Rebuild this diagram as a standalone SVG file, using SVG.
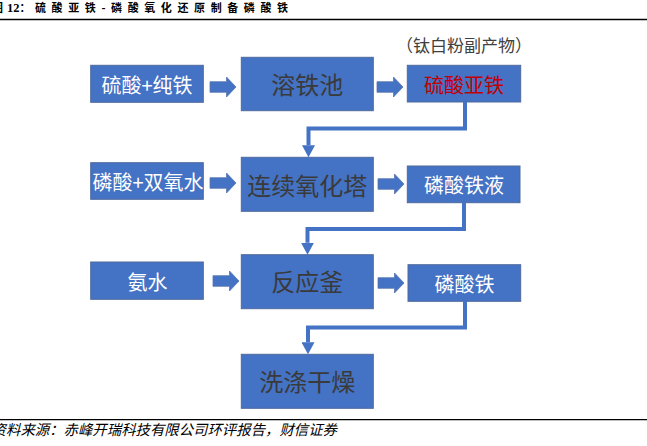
<svg xmlns="http://www.w3.org/2000/svg" width="647" height="446" viewBox="0 0 647 446">
<style>
.box{fill:#4472C4;stroke:#4f6a9c;stroke-width:1}
.arr{fill:#4472C4;stroke:#5a77ad;stroke-width:0.8}
.st{font-family:"Noto Sans CJK SC","Noto Sans",sans-serif;font-size:20px;fill:#ffffff;text-anchor:middle}
.bt{font-family:"Noto Sans CJK SC","Noto Sans",sans-serif;font-size:24px;fill:#3a3a3a;text-anchor:middle}
.conn{fill:none;stroke:#4472C4;stroke-width:4}
</style>
<defs>
<marker id="ah" viewBox="0 0 12 13" markerWidth="12" markerHeight="13" refX="0" refY="6.5" orient="auto" markerUnits="userSpaceOnUse">
<path d="M0,0 L12,6.5 L0,13 Z" fill="#4472C4"/>
</marker>
<path id="blk" d="M0,-5.3 L16.5,-5.3 L16.5,-10 L26,0 L16.5,10 L16.5,5.3 L0,5.3 Z"/>
</defs>
<rect width="647" height="446" fill="#ffffff"/>
<g id="title">
<text x="-8" y="12.3" font-family="Noto Sans CJK SC,sans-serif" font-weight="bold" font-size="11" fill="#000">图</text>
<text x="7" y="12.3" font-family="Liberation Serif,serif" font-weight="bold" font-size="12.5" fill="#000">12<tspan font-family="Noto Sans CJK SC,sans-serif" font-size="11">：</tspan></text>
<text x="35" y="12.3" font-family="Noto Sans CJK SC,sans-serif" font-weight="bold" font-size="11" letter-spacing="5.6" fill="#000">硫酸亚铁-磷酸氧化还原制备磷酸铁</text>
<line x1="0" y1="19.5" x2="647" y2="19.5" stroke="#000" stroke-width="1.3"/>
</g>
<g id="note">
<text x="464" y="51.5" font-family="Noto Sans CJK SC,sans-serif" font-size="17" fill="#404040" text-anchor="middle">（钛白粉副产物）</text>
</g>
<g id="n1"><rect class="box" x="90.7" y="65.3" width="112.6" height="37"/><text class="st" x="147" y="93">硫酸+纯铁</text></g>
<g id="n2"><rect class="box" x="241.3" y="57.3" width="132" height="53.4"/><text class="bt" x="307.3" y="94">溶铁池</text></g>
<g id="n3"><rect class="box" x="407.3" y="65.3" width="113.4" height="36.7"/><text class="st" x="464" y="93" style="fill:#C00000">硫酸亚铁</text></g>
<g id="n4"><rect class="box" x="90.7" y="162.7" width="112.6" height="36.6"/><text class="st" x="148" y="190">磷酸+双氧水</text></g>
<g id="n5"><rect class="box" x="241.3" y="157.3" width="132" height="54"/><text class="bt" x="307.3" y="194.8">连续氧化塔</text></g>
<g id="n6"><rect class="box" x="407.3" y="166" width="112.7" height="36.7"/><text class="st" x="464" y="193.4">磷酸铁液</text></g>
<g id="n7"><rect class="box" x="90.7" y="262" width="112.6" height="37.3"/><text class="st" x="147.5" y="289.6">氨水</text></g>
<g id="n8"><rect class="box" x="241.3" y="254.7" width="132" height="54"/><text class="bt" x="307.3" y="291">反应釜</text></g>
<g id="n9"><rect class="box" x="408" y="264.7" width="112.7" height="36.6"/><text class="st" x="464.5" y="291.6">磷酸铁</text></g>
<g id="n10"><rect class="box" x="241.3" y="354.3" width="132" height="54"/><text class="bt" x="307.3" y="391.4">洗涤干燥</text></g>
<g id="connectors">
<use href="#blk" class="arr" x="210" y="87"/>
<use href="#blk" class="arr" x="377" y="87"/>
<use href="#blk" class="arr" x="210" y="183"/>
<use href="#blk" class="arr" x="378" y="184"/>
<use href="#blk" class="arr" x="213" y="281"/>
<use href="#blk" class="arr" x="378" y="283"/>
<polyline class="conn" points="465,102 465,128.5 308.5,128.5 308.5,145.3" marker-end="url(#ah)"/>
<polyline class="conn" points="464,202.7 464,229 307.5,229 307.5,242.7" marker-end="url(#ah)"/>
<polyline class="conn" points="465,301 465,327.5 308,327.5 308,342.3" marker-end="url(#ah)"/>
</g>
<g id="footer">
<line x1="0" y1="419.7" x2="647" y2="419.7" stroke="#000" stroke-width="1.3"/>
<text x="-8.4" y="435" font-family="Noto Sans CJK SC,sans-serif" font-style="italic" font-size="14.4" fill="#000">资料来源：赤峰开瑞科技有限公司环评报告，财信证券</text>
</g>
</svg>
